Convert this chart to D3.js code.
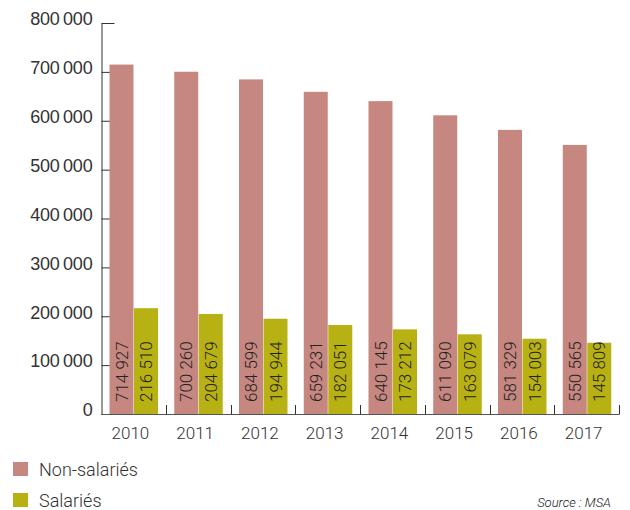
<!DOCTYPE html>
<html>
<head>
<meta charset="utf-8">
<script src="https://cdn.jsdelivr.net/npm/d3@7/dist/d3.min.js"></script>
<style>
  html, body { margin: 0; padding: 0; background: #fff; }
  svg { display: block; font-family: Roboto, "Liberation Sans", sans-serif; }
</style>
</head>
<body>
<svg id="chart" width="630" height="510"></svg>
<script>
const years = ["2010", "2011", "2012", "2013", "2014", "2015", "2016", "2017"];
const seriesNames = ["Non-salariés", "Salariés"];
const nonSalaries = [714927, 700260, 684599, 659231, 640145, 611090, 581329, 550565];
const salaries = [216510, 204679, 194944, 182051, 173212, 163079, 154003, 145809];
const yTicks = [0, 100000, 200000, 300000, 400000, 500000, 600000, 700000, 800000];
const colors = ["#c5877f", "#b8b114"];
const sourceText = "Source : MSA";

const svg = d3.select("#chart");
const pLeft = 101, pRight = 619, pTop = 23, pBottom = 414;

const x = d3.scaleBand().domain(years).range([pLeft, pRight]).paddingInner(0).paddingOuter(0);
const xInner = d3.scaleBand().domain(seriesNames).range([8.5, 57.5]);
const y = d3.scaleLinear().domain([0, 800000]).range([pBottom, pTop]);

const fmtTick = v => d3.format(",")(v).replace(/,/g, "\u2009");
const fmtVal = v => d3.format(",")(v).replace(/,/g, " ");

// Y axis
const yAxis = d3.axisLeft(y).tickValues(yTicks).tickSize(-13).tickSizeOuter(0).tickPadding(9).tickFormat(fmtTick);
const gy = svg.append("g").attr("transform", `translate(${pLeft + 0.5},0)`).call(yAxis);
gy.select(".domain").attr("stroke", "#333");
gy.selectAll(".tick line").attr("stroke", "#333");
gy.selectAll(".tick text")
  .attr("font-size", 18).attr("font-weight", 300).attr("fill", "#333")
  .attr("dy", "0.1em").style("letter-spacing", "-0.2px");

// Bars
const data = [];
years.forEach((yr, i) => {
  data.push({ year: yr, s: seriesNames[0], v: nonSalaries[i], c: colors[0] });
  data.push({ year: yr, s: seriesNames[1], v: salaries[i], c: colors[1] });
});

const g = svg.append("g");
g.selectAll("rect.bar").data(data).enter().append("rect")
  .attr("class", "bar")
  .attr("x", d => x(d.year) + xInner(d.s))
  .attr("width", xInner.bandwidth() - 0.5)
  .attr("y", d => y(d.v))
  .attr("height", d => y(0) - y(d.v))
  .attr("fill", d => d.c);

// Value labels (rotated)
g.selectAll("text.val").data(data).enter().append("text")
  .attr("class", "val")
  .attr("transform", d => `translate(${x(d.year) + xInner(d.s) + xInner.bandwidth() / 2},${y(0) - 12}) rotate(-90)`)
  .attr("dy", "0.35em")
  .attr("font-size", 17).attr("font-weight", 300).attr("fill", "#222")
  .text(d => fmtVal(d.v));

// X baseline and separators
svg.append("line")
  .attr("x1", pLeft).attr("x2", pRight)
  .attr("y1", pBottom + 0.5).attr("y2", pBottom + 0.5)
  .attr("stroke", "#555").attr("stroke-width", 1);
svg.selectAll("line.sep").data(years).enter().append("line")
  .attr("class", "sep")
  .attr("x1", d => Math.round(x(d) + x.bandwidth()) + 0.5)
  .attr("x2", d => Math.round(x(d) + x.bandwidth()) + 0.5)
  .attr("y1", pBottom + 0.5).attr("y2", pBottom - 9)
  .attr("stroke", "#333");

// Year labels
svg.selectAll("text.year").data(years).enter().append("text")
  .attr("class", "year")
  .attr("x", d => x(d) + x.bandwidth() / 2 - 3)
  .attr("y", 433)
  .attr("dy", "0.35em")
  .attr("text-anchor", "middle")
  .attr("font-size", 17).attr("font-weight", 300).attr("fill", "#333")
  .text(d => d);

// Legend
const leg = svg.selectAll("g.leg").data(seriesNames).enter().append("g")
  .attr("class", "leg")
  .attr("transform", (d, i) => `translate(13,${462 + i * 31})`);
leg.append("rect").attr("width", 15).attr("height", 14).attr("fill", (d, i) => colors[i]);
leg.append("text").attr("x", 26).attr("y", 7.5).attr("dy", "0.35em")
  .attr("font-size", 18).attr("font-weight", 300).attr("fill", "#333")
  .text(d => d);

// Source
svg.append("text")
  .attr("x", 611).attr("y", 502).attr("dy", "0.35em")
  .attr("text-anchor", "end")
  .attr("font-size", 13).attr("font-style", "italic").attr("font-weight", 300).attr("fill", "#222")
  .text(sourceText);
</script>
</body>
</html>
